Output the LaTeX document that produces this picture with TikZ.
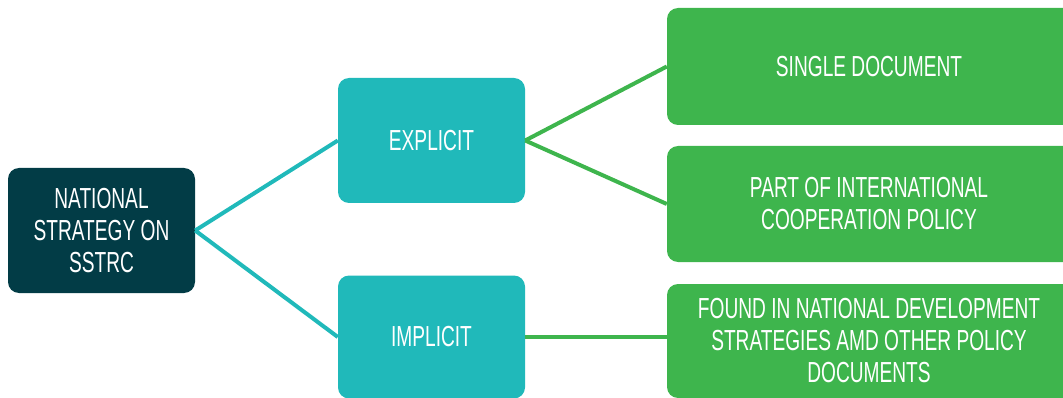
\documentclass[tikz,border=0pt]{standalone}
\usepackage{fontspec}
\setmainfont{Liberation Sans}[FakeStretch=0.66]
\definecolor{darkteal}{HTML}{023C46}
\definecolor{teal2}{HTML}{20B9BA}
\definecolor{green2}{HTML}{3EB54D}
\tikzset{
  box/.style={rounded corners=11pt, inner sep=0pt, text=white, align=center,
    font=\fontsize{29}{32}\selectfont},
  rootbox/.style={box, fill=darkteal},
  midbox/.style={box, fill=teal2},
  leafbox/.style={box, fill=green2},
  tline/.style={draw=teal2, line width=4pt},
  gline/.style={draw=green2, line width=4pt},
}
\begin{document}
\begin{tikzpicture}[x=1pt,y=-1pt]
\useasboundingbox (0,0) rectangle (1063,398);
\node[rootbox, minimum width=187pt, minimum height=125pt] (root) at (101.5,230.5) {NATIONAL\\STRATEGY ON\\SSTRC};
\node[midbox, minimum width=187pt, minimum height=125pt] (exp) at (431.5,140.5) {EXPLICIT};
\node[midbox, minimum width=187pt, minimum height=123pt] (imp) at (431.5,337) {IMPLICIT};
\node[leafbox, minimum width=420pt, minimum height=117pt] (single) at (877,66.5) {};
\node[leafbox, minimum width=420pt, minimum height=116pt] (part) at (877,204) {};
\node[leafbox, minimum width=420pt, minimum height=114pt] (found) at (877,341) {};
\node[box] (singlet) at (869,66.5) {SINGLE DOCUMENT};
\node[box] (partt) at (869,204) {PART OF INTERNATIONAL\\COOPERATION POLICY};
\node[box] (foundt) at (869,341) {FOUND IN NATIONAL DEVELOPMENT\\STRATEGIES AMD OTHER POLICY\\DOCUMENTS};
\draw[tline] (root.east) -- (exp.west);
\draw[tline] (root.east) -- (imp.west);
\draw[gline] (exp.east) -- (single.west);
\draw[gline] (exp.east) -- (part.west);
\draw[gline] (imp.east) -- (found.west |- imp.east);
\end{tikzpicture}
\end{document}
